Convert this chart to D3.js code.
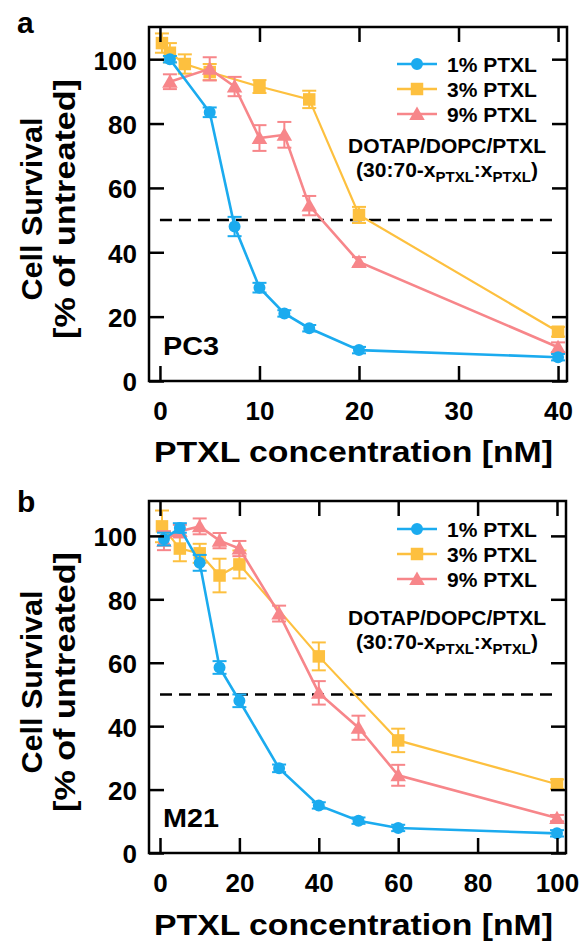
<!DOCTYPE html>
<html>
<head>
<meta charset="utf-8">
<script src="https://cdn.jsdelivr.net/npm/d3@7"></script>
<style>
  html, body { margin: 0; padding: 0; background: #fff; }
  svg text { font-family: "Liberation Sans", Arial, sans-serif; font-weight: bold; fill: #000; }
</style>
</head>
<body>
<svg id="chart" width="582" height="948"></svg>
<script>
// ---------------- DATA ----------------
const seriesNames = ["1% PTXL", "3% PTXL", "9% PTXL"];
const seriesColors = ["#1babef", "#fdc03f", "#f7868a"];

// Panel a : PC3
const pc3XTicks = [0, 10, 20, 30, 40];
const yTicks = [0, 20, 40, 60, 80, 100];
const pc3Blue_x = [1, 5, 7.5, 10, 12.5, 15, 20, 40];
const pc3Blue_y = [100, 83.5, 48, 29, 21, 16.4, 9.6, 7.4];
const pc3Blue_e = [1, 1.5, 3, 1.5, 1, 1, 1, 1];
const pc3Yellow_x = [0.2, 1, 2.5, 5, 10, 15, 20, 40];
const pc3Yellow_y = [105, 102, 98.5, 96, 91.5, 87.5, 51.6, 15.3];
const pc3Yellow_e = [3, 3, 3, 2.5, 2, 2.7, 2.5, 1.5];
const pc3Pink_x = [1, 5, 7.5, 10, 12.5, 15, 20, 40];
const pc3Pink_y = [93, 97, 91.5, 75.5, 76.5, 54.5, 37, 10.5];
const pc3Pink_e = [2.3, 3.6, 3, 4, 4, 3, 1.5, 1.5];

// Panel b : M21
const m21XTicks = [0, 20, 40, 60, 80, 100];
const m21Blue_x = [1, 5, 10, 15, 20, 30, 40, 50, 60, 100];
const m21Blue_y = [99, 102.5, 91.5, 58.5, 48, 26.7, 15, 10.2, 7.9, 6.2];
const m21Blue_e = [2, 1.5, 2.5, 2, 2, 1.2, 1, 1, 1, 1];
const m21Yellow_x = [0.5, 5, 10, 15, 20, 40, 60, 100];
const m21Yellow_y = [103, 96, 94.5, 87.5, 91, 62, 35.5, 21.7];
const m21Yellow_e = [5, 4, 3, 5.3, 4.4, 4.4, 3.7, 1.5];
const m21Pink_x = [1, 5, 10, 15, 20, 30, 40, 50, 60, 100];
const m21Pink_y = [98.5, 101.5, 103, 98.5, 96, 75.5, 50.5, 39.5, 24.5, 11];
const m21Pink_e = [3, 2, 2.5, 2.4, 2.4, 2.5, 3.7, 3.8, 3.3, 1];

const ic50Line = 50;

// ---------------- DRAW ----------------
const svg = d3.select("#chart");

function zip(xs, ys, es) { return xs.map((x, i) => ({ x, y: ys[i], e: es[i] })); }

function drawPanel(cfg) {
  const g = svg.append("g");
  const { left, right, top, bottom } = cfg;
  const x = d3.scaleLinear().domain(cfg.xDomain).range([left, right]);
  const y = d3.scaleLinear().domain(cfg.yDomain).range([bottom, top]);

  // dashed 50% line
  g.append("line")
    .attr("x1", x(cfg.xTicks[0])).attr("x2", x(cfg.xTicks[cfg.xTicks.length - 1]))
    .attr("y1", y(ic50Line)).attr("y2", y(ic50Line))
    .attr("stroke", "#000").attr("stroke-width", 2.5).attr("stroke-dasharray", "12,7");

  // series: yellow, pink, blue order (blue on top)
  const order = [1, 2, 0];
  order.forEach(si => {
    const data = cfg.series[si];
    const col = seriesColors[si];
    const sg = g.append("g");
    sg.append("path").datum(data)
      .attr("fill", "none").attr("stroke", col)
      .attr("stroke-width", si === 1 ? 2.2 : 2.6)
      .attr("d", d3.line().x(d => x(d.x)).y(d => y(d.y)));
    // error bars
    const eb = sg.selectAll(".eb").data(data).enter().append("g")
      .attr("stroke", col).attr("stroke-width", 2);
    eb.append("line").attr("x1", d => x(d.x)).attr("x2", d => x(d.x))
      .attr("y1", d => y(d.y - d.e)).attr("y2", d => y(d.y + d.e));
    eb.append("line").attr("x1", d => x(d.x) - 7).attr("x2", d => x(d.x) + 7)
      .attr("y1", d => y(d.y + d.e)).attr("y2", d => y(d.y + d.e));
    eb.append("line").attr("x1", d => x(d.x) - 7).attr("x2", d => x(d.x) + 7)
      .attr("y1", d => y(d.y - d.e)).attr("y2", d => y(d.y - d.e));
    // markers
    const sym = si === 0 ? d3.symbolCircle : (si === 1 ? d3.symbolSquare : d3.symbolTriangle);
    const size = si === 0 ? 113 : (si === 1 ? 156 : 105);
    sg.selectAll(".m").data(data).enter().append("path")
      .attr("transform", d => `translate(${x(d.x)},${y(d.y) + (si === 2 ? 1.5 : 0)})`)
      .attr("d", d3.symbol().type(sym).size(size)())
      .attr("fill", col);
  });

  // axes (inward ticks)
  const fmt = d3.format("d");
  const axB = g.append("g").attr("transform", `translate(0,${bottom})`)
    .call(d3.axisBottom(x).tickValues(cfg.xTicks).tickSizeInner(-15).tickSizeOuter(0).tickPadding(21).tickFormat(fmt));
  const axT = g.append("g").attr("transform", `translate(0,${top})`)
    .call(d3.axisTop(x).tickValues(cfg.xTicks).tickSizeInner(-15).tickSizeOuter(0).tickFormat(""));
  const axL = g.append("g").attr("transform", `translate(${left},0)`)
    .call(d3.axisLeft(y).tickValues(yTicks).tickSizeInner(-15).tickSizeOuter(0).tickPadding(12).tickFormat(fmt));
  const axR = g.append("g").attr("transform", `translate(${right},0)`)
    .call(d3.axisRight(y).tickValues(yTicks).tickSizeInner(-15).tickSizeOuter(0).tickFormat(""));
  [axB, axT, axL, axR].forEach(a => {
    a.select(".domain").remove();
    a.selectAll(".tick line").attr("stroke", "#000").attr("stroke-width", 2.5);
    a.selectAll("text").attr("font-size", 26).attr("font-family", "Liberation Sans, Arial, sans-serif")
      .attr("font-weight", "bold").attr("fill", "#000");
  });
  axB.selectAll("text").attr("dy", null).attr("y", cfg.xLabelBase - bottom);
  axL.selectAll("text").attr("dy", "0.38em");

  // frame
  g.append("rect").attr("x", left).attr("y", top)
    .attr("width", right - left).attr("height", bottom - top)
    .attr("fill", "none").attr("stroke", "#000").attr("stroke-width", 2.5);

  // legend
  seriesNames.forEach((name, si) => {
    const cy = cfg.legendY[si];
    const col = seriesColors[si];
    g.append("line").attr("x1", 397).attr("x2", 437).attr("y1", cy).attr("y2", cy)
      .attr("stroke", col).attr("stroke-width", 2.6);
    const sym = si === 0 ? d3.symbolCircle : (si === 1 ? d3.symbolSquare : d3.symbolTriangle);
    const size = si === 0 ? 113 : (si === 1 ? 156 : 105);
    g.append("path").attr("transform", `translate(417,${cy + (si === 2 ? 1.5 : 0)})`)
      .attr("d", d3.symbol().type(sym).size(size)()).attr("fill", col);
    g.append("text").attr("x", 447).attr("y", cy + 8).attr("font-size", 21).text(name);
  });
  g.append("text").attr("x", 447).attr("y", cfg.noteY).attr("text-anchor", "middle")
    .attr("font-size", 21).text("DOTAP/DOPC/PTXL");
  const t2 = g.append("text").attr("x", 447).attr("y", cfg.noteY + 24).attr("text-anchor", "middle")
    .attr("font-size", 21);
  t2.append("tspan").text("(30:70-x");
  t2.append("tspan").attr("font-size", 15).attr("dy", 5).text("PTXL");
  t2.append("tspan").attr("dy", -5).text(":x");
  t2.append("tspan").attr("font-size", 15).attr("dy", 5).text("PTXL");
  t2.append("tspan").attr("dy", -5).text(")");

  // cell line label
  g.append("text").attr("x", 163).attr("y", bottom - 26).attr("font-size", 26)
    .attr("textLength", 56).attr("lengthAdjust", "spacingAndGlyphs").text(cfg.cellLine);

  // panel letter
  g.append("text").attr("x", 17).attr("y", cfg.letterY).attr("font-size", 30).text(cfg.letter);

  // y title
  const yc = cfg.yTitleC;
  g.append("text").attr("transform", `translate(42,${yc}) rotate(-90)`).attr("text-anchor", "middle")
    .attr("font-size", 29).attr("textLength", 183).attr("lengthAdjust", "spacingAndGlyphs")
    .text("Cell Survival");
  g.append("text").attr("transform", `translate(75,${yc}) rotate(-90)`).attr("text-anchor", "middle")
    .attr("font-size", 29).attr("textLength", 260).attr("lengthAdjust", "spacingAndGlyphs")
    .text("[% of untreated]");

  // x title
  g.append("text").attr("x", 353.5).attr("y", cfg.xTitleBase).attr("text-anchor", "middle")
    .attr("font-size", 30).attr("textLength", 399).attr("lengthAdjust", "spacingAndGlyphs")
    .text("PTXL concentration [nM]");
}

drawPanel({
  left: 149, right: 567, top: 27, bottom: 381,
  xDomain: [-1.1, 40.9], yDomain: [0, 110],
  xTicks: pc3XTicks,
  series: [zip(pc3Blue_x, pc3Blue_y, pc3Blue_e), zip(pc3Yellow_x, pc3Yellow_y, pc3Yellow_e), zip(pc3Pink_x, pc3Pink_y, pc3Pink_e)],
  xLabelBase: 420, xTitleBase: 462,
  legendY: [64, 89, 114], noteY: 153,
  cellLine: "PC3", letter: "a", letterY: 33, yTitleC: 209
});

drawPanel({
  left: 149, right: 566, top: 501, bottom: 853,
  xDomain: [-2.77, 102.27], yDomain: [0, 111],
  xTicks: m21XTicks,
  series: [zip(m21Blue_x, m21Blue_y, m21Blue_e), zip(m21Yellow_x, m21Yellow_y, m21Yellow_e), zip(m21Pink_x, m21Pink_y, m21Pink_e)],
  xLabelBase: 892, xTitleBase: 935,
  legendY: [529, 554, 579], noteY: 625,
  cellLine: "M21", letter: "b", letterY: 512, yTitleC: 682
});
</script>
</body>
</html>
